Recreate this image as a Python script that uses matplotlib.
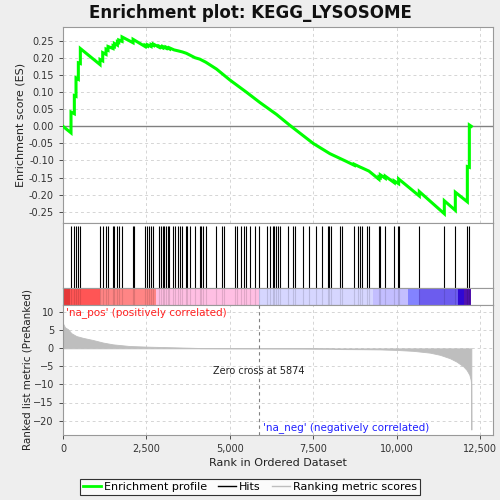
import matplotlib
matplotlib.use("Agg")
import matplotlib.pyplot as plt
from matplotlib.lines import Line2D

# ---------------- data ----------------
hit_ranks = [240, 340, 390, 460, 520, 1110, 1190, 1290, 1350, 1500, 1540, 1630,
             1670, 1770, 2100, 2130, 2460, 2530, 2570, 2640, 2710, 2880, 2930,
             2990, 3040, 3090, 3140, 3190, 3300, 3360, 3460, 3520, 3580, 3680,
             3720, 3810, 3960, 4100, 4140, 4210, 4280, 4590, 4760, 4830, 5170,
             5210, 5340, 5420, 5480, 5620, 5760, 5880, 6110, 6190, 6280, 6330,
             6390, 6430, 6490, 6750, 6900, 6960, 7180, 7360, 7590, 7760, 7950,
             7980, 8030, 8300, 8370, 8730, 8850, 8900, 8970, 9110, 9170, 9470,
             9510, 9660, 9930, 10030, 10060, 10680, 11430, 11760, 12120, 12180]

es_rank = [0, 240, 240, 340, 340, 390, 390, 460, 460, 520, 520,
           1110, 1110, 1190, 1190, 1290, 1290, 1350, 1350, 1500, 1500, 1540, 1540,
           1630, 1630, 1670, 1670, 1770, 1770, 2100, 2100, 2460, 2460, 2530, 2530,
           2640, 2640, 2710, 2710, 2880, 2880, 2990, 2990, 3090, 3090, 3190, 3190,
           3330, 3460, 3580, 3700, 3960, 4100, 4280, 4600, 5000, 5500, 5900, 6400,
           6800, 7500, 8000, 8500, 8730, 8730, 8900, 8970, 9170, 9470, 9470, 9510,
           9510, 9660, 9660, 9930, 9930, 10060, 10060, 10680, 10680, 11430, 11430,
           11760, 11760, 12120, 12120, 12180, 12180, 12240]
es_value = [0.000, -0.019, 0.042, 0.037, 0.090, 0.088, 0.142, 0.138, 0.186, 0.184, 0.228,
            0.181, 0.196, 0.192, 0.216, 0.211, 0.226, 0.223, 0.234, 0.228, 0.236, 0.234, 0.243,
            0.238, 0.248, 0.246, 0.253, 0.249, 0.262, 0.245, 0.255, 0.234, 0.238, 0.235, 0.239,
            0.234, 0.240, 0.237, 0.241, 0.232, 0.235, 0.230, 0.234, 0.229, 0.232, 0.227, 0.230,
            0.224, 0.221, 0.218, 0.214, 0.201, 0.197, 0.188, 0.168, 0.136, 0.100, 0.070, 0.035,
            0.003, -0.050, -0.080, -0.103, -0.114, -0.111, -0.119, -0.122, -0.131, -0.155, -0.148, -0.150,
            -0.142, -0.152, -0.146, -0.165, -0.160, -0.168, -0.154, -0.204, -0.191, -0.256, -0.218,
            -0.246, -0.193, -0.221, -0.118, -0.120, 0.004, 0.000]

metric_rank = [0, 60, 150, 250, 400, 600, 900, 1200, 1500, 2000, 2600, 3000, 4000,
               4100, 5000, 5874, 7000, 8100, 8200, 9000, 9500, 10000, 10500, 11000,
               11300, 11600, 11800, 12000, 12100, 12180, 12220, 12235, 12240]
metric_value = [6.9, 5.8, 5.3, 4.2, 3.4, 2.9, 2.3, 1.6, 1.1, 0.64, 0.45, 0.36, 0.12,
                0.05, 0.02, 0.0, -0.03, -0.1, -0.2, -0.25, -0.3, -0.45, -0.7, -1.2,
                -1.8, -2.75, -3.7, -5.0, -6.0, -7.3, -8.7, -10.0, -22.5]

band_edges = [0, 200, 1100, 2800, 5874, 9300, 10330, 10680, 11830, 12030, 12240]
band_colors = ['#E53838', '#FF5555', '#FF8585', '#FFBFE3', '#D6D6FF', '#C3BEFF',
               '#8383FF', '#6C5CEE', '#3008D4', '#5012AE']

zero_cross = 5874
title = "Enrichment plot: KEGG_LYSOSOME"
x_ticks = [0, 2500, 5000, 7500, 10000, 12500]
x_ticklabels = ["0", "2,500", "5,000", "7,500", "10,000", "12,500"]
es_ticks = [0.25, 0.20, 0.15, 0.10, 0.05, 0.0, -0.05, -0.10, -0.15, -0.20, -0.25]
metric_ticks = [10, 5, 0, -5, -10, -15, -20]

# ---------------- figure ----------------
plt.rcParams['font.family'] = ['DejaVu Sans']
fig = plt.figure(figsize=(5, 5), dpi=100, facecolor='#EEEEEE')
XMAX = 12880
spine_c = '#999999'
grid_kw = dict(color='#D5D5D5', linestyle=(0, (3, 3)), linewidth=0.7)

def style(ax):
    for s in ax.spines.values():
        s.set_color(spine_c)
        s.set_linewidth(0.8)
    ax.tick_params(colors='#333333', labelsize=7, length=3, width=0.6)
    ax.set_facecolor('white')

ax1 = fig.add_axes([0.126, 0.5534, 0.8594, 0.3932])
ax2 = fig.add_axes([0.126, 0.4234, 0.8594, 0.13])
ax3 = fig.add_axes([0.126, 0.39, 0.8594, 0.0334])
ax4 = fig.add_axes([0.126, 0.13, 0.8594, 0.26])

# ES panel
style(ax1)
ax1.set_xlim(0, XMAX)
ax1.set_ylim(-0.284, 0.292)
for t in x_ticks:
    ax1.axvline(t, **grid_kw, zorder=0)
for t in es_ticks:
    ax1.axhline(t, **grid_kw, zorder=0)
ax1.axhline(0, color='#808080', linewidth=1.0, zorder=1)
ax1.plot(es_rank, es_value, color='#00FF00', linewidth=2.2, zorder=3,
         solid_joinstyle='miter')
ax1.set_xticks([])
ax1.set_yticks(es_ticks)
ax1.set_yticklabels([f"{v:.2f}" for v in es_ticks])
ax1.set_ylabel("Enrichment score (ES)", fontsize=8, color='#222222')
ax1.yaxis.set_label_coords(-0.088, 0.5)

# hits panel
style(ax2)
ax2.set_xlim(0, XMAX)
ax2.set_ylim(0, 1)
ax2.vlines(hit_ranks, 0, 0.96, color='black', linewidth=0.8)
ax2.set_xticks([])
ax2.set_yticks([])

# colour bar
style(ax3)
ax3.set_xlim(0, XMAX)
ax3.set_ylim(0, 1)
for i, c in enumerate(band_colors):
    ax3.axvspan(band_edges[i], band_edges[i + 1], color=c, linewidth=0)
ax3.vlines(hit_ranks, 0, 1, color='black', alpha=0.12, linewidth=0.8)
ax3.set_xticks([])
ax3.set_yticks([])

# metric panel
style(ax4)
ax4.set_xlim(0, XMAX)
ax4.set_ylim(-24, 12)
for t in x_ticks:
    ax4.axvline(t, **grid_kw, zorder=0)
for t in metric_ticks:
    ax4.axhline(t, **grid_kw, zorder=0)
ax4.fill_between(metric_rank, metric_value, 0, color='#BEBEBE', linewidth=0.6,
                 edgecolor='#BEBEBE', zorder=2)
ax4.axvline(zero_cross, color='#808080', linestyle=(0, (3, 3)), linewidth=0.8, zorder=3)
ax4.text(zero_cross, -6.3, f"Zero cross at {zero_cross}", ha='center', va='center',
         fontsize=7, color='#222222')
ax4.text(100, 10, "'na_pos' (positively correlated)", ha='left', va='center',
         fontsize=7.5, color='#FF2020')
ax4.text(10970, -21.9, "'na_neg' (negatively correlated)", ha='right', va='center',
         fontsize=7.5, color='#2020FF')
ax4.set_xticks(x_ticks)
ax4.set_xticklabels(x_ticklabels)
ax4.set_yticks(metric_ticks)
ax4.set_xlabel("Rank in Ordered Dataset", fontsize=8, color='#222222', labelpad=3)
ax4.set_ylabel("Ranked list metric (PreRanked)", fontsize=7.5, color='#222222')
ax4.yaxis.set_label_coords(-0.07, 0.5)

fig.text(0.5, 1 - 12.7 / 500, title, ha='center', va='center', fontsize=12,
         fontweight='bold', color='#111111')

handles = [Line2D([], [], color='#00FF00', linewidth=2),
           Line2D([], [], color='black', linewidth=1),
           Line2D([], [], color='#BEBEBE', linewidth=1)]
leg = fig.legend(handles, ["Enrichment profile", "Hits", "Ranking metric scores"],
                 loc='center', bbox_to_anchor=(0.5, 0.026), ncol=3, fontsize=8,
                 frameon=True, fancybox=False, handlelength=1.6, handletextpad=0.3,
                 columnspacing=1.0, borderpad=0.3)
leg.get_frame().set_edgecolor('black')
leg.get_frame().set_linewidth(0.8)

fig.savefig("out.png", dpi=100, facecolor=fig.get_facecolor())
